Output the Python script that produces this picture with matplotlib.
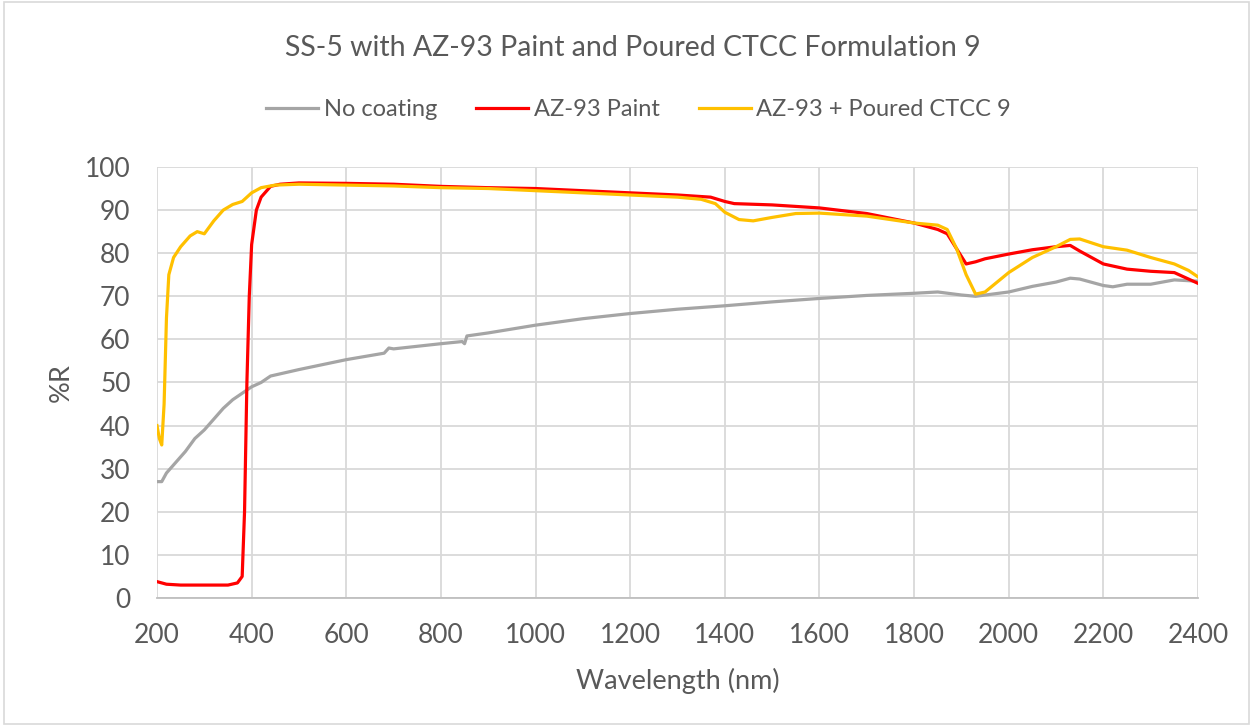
import numpy as np
import matplotlib
matplotlib.use("Agg")
import matplotlib.pyplot as plt
from matplotlib.patches import Rectangle

plt.rcParams['font.family'] = ['Lato', 'DejaVu Sans']

# No coating
wl_none = [200, 210, 220, 240, 260, 280, 300, 320, 340, 360, 380, 400, 420, 440, 460,
           500, 600, 680, 690, 700, 800, 845, 850, 855, 900, 1000, 1100, 1200, 1300,
           1400, 1500, 1600, 1700, 1800, 1850, 1900, 1930, 2000, 2050, 2100, 2130,
           2150, 2200, 2220, 2250, 2300, 2350, 2400]
r_none = [27, 27, 29, 31.5, 34, 37, 39, 41.5, 44, 46, 47.5, 49, 50, 51.5, 52,
          53, 55.3, 56.8, 58, 57.8, 59, 59.5, 59, 60.8, 61.5, 63.3, 64.8, 66, 67,
          67.8, 68.7, 69.5, 70.2, 70.7, 71, 70.3, 70, 71, 72.3, 73.3, 74.2,
          74, 72.5, 72.2, 72.8, 72.8, 73.8, 73.5]

# AZ-93 Paint
wl_paint = [200, 220, 250, 300, 350, 370, 380, 385, 390, 395, 400, 410, 420, 440, 460,
            500, 600, 700, 800, 900, 1000, 1100, 1200, 1300, 1370, 1400, 1420, 1500,
            1600, 1700, 1800, 1850, 1870, 1890, 1910, 1930, 1950, 2000, 2050, 2100,
            2130, 2150, 2200, 2250, 2300, 2350, 2380, 2400]
r_paint = [3.8, 3.2, 3, 3, 3, 3.5, 5, 20, 50, 70, 82, 90, 93, 95.5, 96,
           96.3, 96.2, 96, 95.5, 95.2, 95, 94.5, 94, 93.5, 93, 92, 91.5, 91.2,
           90.5, 89.2, 87, 85.5, 84.5, 81, 77.5, 78, 78.7, 79.8, 80.8, 81.5,
           81.8, 80.5, 77.5, 76.3, 75.8, 75.5, 74, 73]

# AZ-93 + Poured CTCC 9
wl_ctcc = [200, 205, 210, 215, 220, 225, 235, 250, 270, 285, 300, 320, 340, 360, 380,
           400, 420, 450, 500, 600, 700, 800, 900, 1000, 1100, 1200, 1300, 1350, 1380,
           1400, 1430, 1460, 1500, 1550, 1600, 1700, 1800, 1850, 1870, 1890, 1910,
           1930, 1950, 2000, 2050, 2100, 2130, 2150, 2200, 2250, 2300, 2350, 2380, 2400]
r_ctcc = [40, 37, 35.5, 45, 65, 75, 79, 81.5, 84, 85, 84.5, 87.5, 90, 91.3, 92,
          94, 95.2, 95.8, 96, 95.8, 95.6, 95.2, 95, 94.5, 94, 93.5, 93, 92.5, 91.5,
          89.5, 87.8, 87.5, 88.3, 89.2, 89.3, 88.6, 87, 86.5, 85.5, 81, 75,
          70.5, 71, 75.5, 79, 81.5, 83.2, 83.3, 81.5, 80.7, 79, 77.5, 76, 74.5]

text_color = "#595959"

fig = plt.figure(figsize=(12.53, 7.26), dpi=100)
ax = fig.add_axes([0.1253, 0.1763, 0.8308, 0.5937])

ax.plot(wl_none, r_none, color="#A5A5A5", lw=2.3, label="No coating")
ax.plot(wl_paint, r_paint, color="#FF0000", lw=2.3, label="AZ-93 Paint")
ax.plot(wl_ctcc, r_ctcc, color="#FFC000", lw=2.3, label="AZ-93 + Poured CTCC 9")

ax.set_xlim(200, 2400)
ax.set_ylim(0, 100)
ax.set_xticks(np.arange(200, 2401, 200))
ax.set_yticks(np.arange(0, 101, 10))
ax.grid(True, color="#D9D9D9", lw=1.3)
ax.set_axisbelow(True)
for s in ["top", "right", "left"]:
    ax.spines[s].set_visible(False)
ax.spines["bottom"].set_color("#BFBFBF")
ax.spines["bottom"].set_linewidth(1.3)
ax.tick_params(length=0, labelsize=19, colors=text_color)
ax.tick_params(axis="y", pad=19)
ax.tick_params(axis="x", pad=18)

ax.set_xlabel("Wavelength (nm)", fontsize=19.5, color=text_color, va="center")
ax.set_ylabel("%R", fontsize=19.5, color=text_color, va="center", ha="center")
ax.xaxis.set_label_coords(0.5, (598 - 681) / 431)
ax.yaxis.set_label_coords((61 - 157) / 1041, 0.5)

fig.text(0.5 + 6 / 1253, 1 - 48 / 726, "SS-5 with AZ-93 Paint and Poured CTCC Formulation 9",
         ha="center", va="center", fontsize=20.5, color=text_color)
fig.legend(loc="center", bbox_to_anchor=(0.5 + 12 / 1253, 1 - 110 / 726), ncol=3,
           frameon=False, fontsize=17, labelcolor=text_color, handlelength=2.2,
           handletextpad=0.25, columnspacing=1.65)

fig.patches.append(Rectangle((0.003, 0.003), 0.994, 0.994, transform=fig.transFigure,
                             fill=False, edgecolor="#D9D9D9", lw=1.2))

fig.savefig("out.png", dpi=100)
